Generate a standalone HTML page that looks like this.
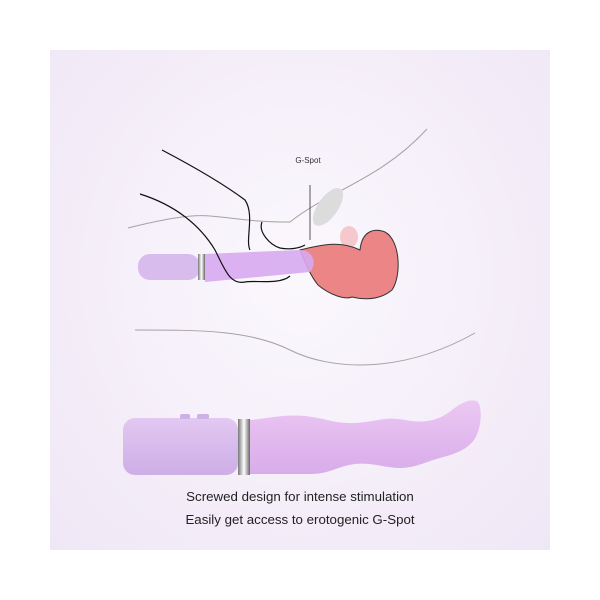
<!DOCTYPE html>
<html><head><style>
body{margin:0;width:600px;height:600px;background:#fff;position:relative;overflow:hidden}
.panel{position:absolute;left:50px;top:50px;width:500px;height:500px;background:radial-gradient(ellipse at 50% 45%,#fbf8fd 0%,#f3ecf8 70%,#efe7f5 100%)}
.t{position:absolute;left:0;width:600px;text-align:center;font-family:"Liberation Sans",sans-serif;font-size:13.3px;color:#222}
</style></head><body>
<div class="panel"></div>
<svg width="600" height="600" style="position:absolute;left:0;top:0">
<defs>
<linearGradient id="h" x1="0" y1="0" x2="0" y2="1"><stop offset="0" stop-color="#e2c8f2"/><stop offset="1" stop-color="#cdaee6"/></linearGradient>
<linearGradient id="s" x1="0" y1="0" x2="0" y2="1"><stop offset="0" stop-color="#ecc8f2"/><stop offset="1" stop-color="#d8acea"/></linearGradient>
<linearGradient id="m" x1="0" y1="0" x2="1" y2="0"><stop offset="0" stop-color="#777"/><stop offset=".5" stop-color="#fff"/><stop offset="1" stop-color="#666"/></linearGradient>
</defs>
<path d="M128,228 C160,220 190,214 210,216 C235,218 250,222 290,222 C330,190 380,180 427,129" fill="none" stroke="#a8a0a0" stroke-width="1"/>
<path d="M135,330 C200,330 250,330 290,350 C330,370 400,375 475,333" fill="none" stroke="#a8a0a0" stroke-width="1"/>
<ellipse cx="328" cy="207" rx="10" ry="22" transform="rotate(35 328 207)" fill="#dcdcdc"/>
<ellipse cx="349" cy="237" rx="9" ry="11" fill="#f4c8cc"/>
<path d="M300,250 C320,245 340,240 360,250 C362,230 375,228 385,232 C400,240 402,275 392,290 C380,300 365,300 352,297 C345,300 330,295 318,285 C310,275 305,262 300,250Z" fill="#ec8585" stroke="#333" stroke-width="1"/>
<rect x="138" y="254" width="62" height="26" rx="12" fill="#d8bcee"/>
<rect x="198" y="254" width="7" height="26" fill="url(#m)"/>
<path d="M205,254 L300,250 C312,250 318,262 310,272 L205,282Z" fill="#d7aaf0" opacity=".9"/>
<path d="M162,150 C200,170 225,185 245,200 C255,215 245,240 250,250" fill="none" stroke="#111" stroke-width="1.2"/>
<path d="M140,194 C175,205 200,225 215,250 C225,270 230,285 245,282 C255,280 280,285 290,276" fill="none" stroke="#111" stroke-width="1.2"/>
<path d="M262,222 C258,232 270,245 280,248 C290,250 300,248 305,245" fill="none" stroke="#111" stroke-width="1.2"/>
<path d="M310,185 L310,240" stroke="#555" stroke-width="1"/>
<text x="308" y="163" font-family="Liberation Sans,sans-serif" font-size="8" fill="#333" text-anchor="middle">G-Spot</text>
<rect x="123" y="418" width="115" height="57" rx="12" fill="url(#h)"/>
<rect x="180" y="414" width="10" height="5" rx="2" fill="#cdb0e4"/>
<rect x="197" y="414" width="12" height="5" rx="2" fill="#cdb0e4"/>
<rect x="238" y="419" width="12" height="56" fill="url(#m)"/>
<path d="M250,420 C270,418 285,414 305,416 C325,418 335,424 355,423 C375,422 385,416 405,420 C425,424 440,420 452,410 C462,402 472,398 478,402 C483,410 481,430 474,440 C465,452 450,455 440,458 C425,462 415,468 400,468 C385,468 372,462 355,464 C338,466 330,474 310,474 C290,474 275,474 250,474Z" fill="url(#s)"/>
</svg>
<div class="t" style="top:489px">Screwed design for intense stimulation</div>
<div class="t" style="top:512px">Easily get access to erotogenic G-Spot</div>
</body></html>
